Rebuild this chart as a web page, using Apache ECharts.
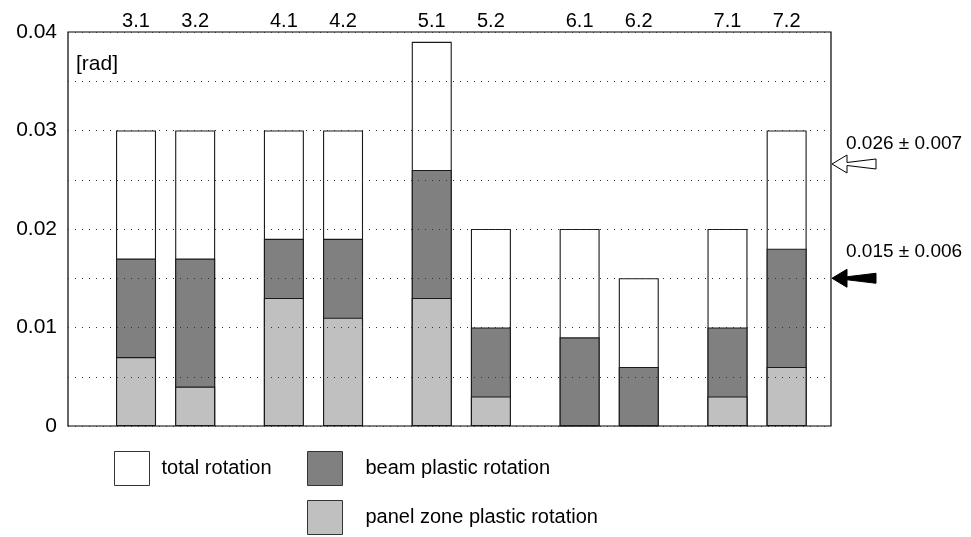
<!DOCTYPE html>
<html>
<head>
<meta charset="utf-8">
<script src="https://cdn.jsdelivr.net/npm/echarts@6/dist/echarts.min.js"></script>
<style>
html,body{margin:0;padding:0;background:#fff;}
#chart{width:971px;height:537px;}
</style>
</head>
<body>
<div id="chart"></div>
<script>
// ---- data ----
const categories = ['3.1','3.2','4.1','4.2','5.1','5.2','6.1','6.2','7.1','7.2'];
const groupIndex = [0,0,1,1,2,2,3,3,4,4];
const memberIndex = [0,1,0,1,0,1,0,1,0,1];
const totalRotation       = [0.030,0.030,0.030,0.030,0.039,0.020,0.020,0.015,0.020,0.030];
const beamPlasticRotation = [0.010,0.013,0.006,0.008,0.013,0.007,0.009,0.006,0.007,0.012];
const panelZoneRotation   = [0.007,0.004,0.013,0.011,0.013,0.003,0.000,0.000,0.003,0.006];
const yTickLabels = ['0','0.01','0.02','0.03','0.04'];
const annotationTexts  = ['0.026 \u00b1 0.007','0.015 \u00b1 0.006'];
const annotationLevels = [0.0266, 0.015];
const annotationTextLevels = [0.0287, 0.0177];
const annotationFill   = ['#ffffff','#000000'];
const seriesNames = ['total rotation','beam plastic rotation','panel zone plastic rotation'];

// x position of each specimen: two per group, groups separated by a wider gap
const xPos = categories.map((c,i)=> 1 + 2.5*groupIndex[i] + memberIndex[i]);
// beam plastic rotation sits on top of the panel zone rotation
const beamTop = beamPlasticRotation.map((b,i)=> +(b + panelZoneRotation[i]).toFixed(4));

const FONT = 'Liberation Sans, Arial, Helvetica, sans-serif';
const X_MIN = -0.15, X_MAX = 12.75, Y_MAX = 0.04;

const chart = echarts.init(document.getElementById('chart'), null, {renderer:'canvas'});
const barBorder = {borderColor:'#1a1a1a', borderWidth:1.1};

const option = {
  animation:false,
  backgroundColor:'#fff',
  textStyle:{fontFamily:FONT},
  grid:{left:68, right:140, top:32, bottom:111, show:true, borderColor:'#000', borderWidth:1.2, backgroundColor:'transparent'},
  xAxis:{type:'value', min:X_MIN, max:X_MAX, show:false, splitLine:{show:false}},
  yAxis:{
    type:'value', min:0, max:Y_MAX, interval:0.005, z:10,
    axisLine:{show:false}, axisTick:{show:false},
    axisLabel:{
      color:'#000', fontSize:21, fontFamily:FONT, margin:11,
      formatter:(v)=>{ const k=Math.round(v/0.005); return k%2===0 ? yTickLabels[k/2] : ''; }
    },
    splitLine:{show:true, lineStyle:{color:'#333', width:1, type:[1,6]}}
  },
  legend:[
    {data:[seriesNames[0]], left:114, top:451, padding:0, itemWidth:35, itemHeight:34, icon:'rect', selectedMode:false,
     itemStyle:{borderColor:'#333', borderWidth:1},
     textStyle:{fontSize:20, color:'#000', fontFamily:FONT, padding:[0,0,0,7]}},
    {data:[seriesNames[1]], left:307, top:451, padding:0, itemWidth:35, itemHeight:34, icon:'rect', selectedMode:false,
     itemStyle:{borderColor:'#333', borderWidth:1},
     textStyle:{fontSize:20, color:'#000', fontFamily:FONT, padding:[0,0,0,18]}},
    {data:[seriesNames[2]], left:307, top:500, padding:0, itemWidth:35, itemHeight:34, icon:'rect', selectedMode:false,
     itemStyle:{borderColor:'#333', borderWidth:1},
     textStyle:{fontSize:20, color:'#000', fontFamily:FONT, padding:[0,0,0,18]}}
  ],
  series:[
    {name:seriesNames[0], type:'bar', barWidth:40, barGap:'-100%',
     itemStyle:Object.assign({color:'#ffffff'}, barBorder),
     data:xPos.map((x,i)=>[x,totalRotation[i]])},
    {name:seriesNames[1], type:'bar', barWidth:40, barGap:'-100%',
     itemStyle:Object.assign({color:'#808080'}, barBorder),
     data:xPos.map((x,i)=>[x,beamTop[i]])},
    {name:seriesNames[2], type:'bar', barWidth:40, barGap:'-100%',
     itemStyle:Object.assign({color:'#c0c0c0'}, barBorder),
     data:xPos.map((x,i)=>[x,panelZoneRotation[i]])}
  ]
};
chart.setOption(option);

const graphics = [
  {type:'text', left:76, top:54, style:{text:'[rad]', fontSize:21, fontFamily:FONT, fill:'#000'}}
];
// specimen labels above the plot, at each bar's x position
xPos.forEach((x,i)=>{
  const p = chart.convertToPixel({gridIndex:0}, [x, Y_MAX]);
  graphics.push({type:'text', x:p[0], y:p[1]-11,
    style:{text:categories[i], fontSize:20, fontFamily:FONT, fill:'#000', textAlign:'center', textVerticalAlign:'middle'}});
});
// annotations on the right side, placed at their data levels
annotationLevels.forEach((lv,i)=>{
  const p = chart.convertToPixel({gridIndex:0}, [X_MAX, lv]);
  const q = chart.convertToPixel({gridIndex:0}, [X_MAX, annotationTextLevels[i]]);
  const tx = p[0]+1, ty = p[1];
  graphics.push({
    type:'polygon', x:tx, y:ty,
    shape:{points:[[0,0],[15,-9],[15,-1.5],[44,-5],[44,5],[15,1.5],[15,9]]},
    style:{fill:annotationFill[i], stroke:'#000', lineWidth:1}
  });
  graphics.push({
    type:'text', x:tx+14, y:q[1],
    style:{text:annotationTexts[i], fontSize:19, fontFamily:FONT, fill:'#000', textVerticalAlign:'middle'}
  });
});
chart.setOption({graphic:graphics});
</script>
</body>
</html>
